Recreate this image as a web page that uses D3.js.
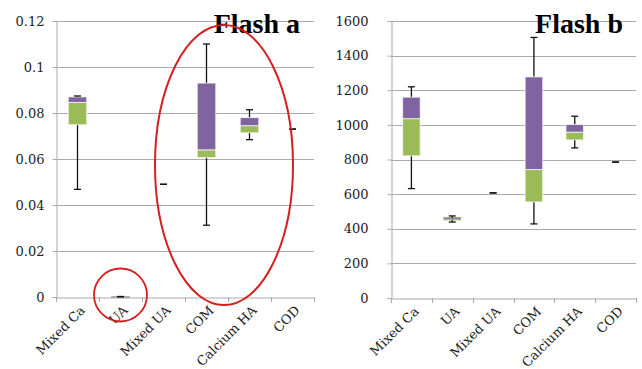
<!DOCTYPE html>
<html>
<head>
<meta charset="utf-8">
<script src="https://cdn.jsdelivr.net/npm/d3@7/dist/d3.min.js"></script>
<style>
  body { margin: 0; background: #fff; }
  svg { display: block; }
</style>
</head>
<body>
<div id="chart"></div>
<script>
(function () {
  'use strict';

  var categories = ['Mixed Ca', 'UA', 'Mixed UA', 'COM', 'Calcium HA', 'COD'];

  // Flash a
  var aMin = [0.0468, 0.0001, 0.049, 0.0312, 0.0684, 0.073];
  var aQ1 = [0.0749, 0.00012, 0.049, 0.0606, 0.0714, 0.073];
  var aMed = [0.0846, 0.00016, 0.049, 0.064, 0.0745, 0.073];
  var aQ3 = [0.087, 0.0002, 0.049, 0.093, 0.078, 0.073];
  var aMax = [0.0874, 0.00022, 0.049, 0.110, 0.0814, 0.073];
  var aTicks = [0, 0.02, 0.04, 0.06, 0.08, 0.1, 0.12];

  // Flash b
  var bMin = [632, 439, 607, 428, 867, 785];
  var bQ1 = [821, 449, 607, 555, 913, 785];
  var bMed = [1036, 458, 607, 742, 958, 785];
  var bQ3 = [1160, 466, 607, 1277, 1002, 785];
  var bMax = [1220, 474, 607, 1505, 1050, 785];
  var bTicks = [0, 200, 400, 600, 800, 1000, 1200, 1400, 1600];

  var W = 642, H = 369;
  var svg = d3.select('#chart').append('svg').attr('width', W).attr('height', H);

  var purple = '#8064A2', green = '#9BBB59', grid = '#ABABAB';

  function boxChart(opt) {
    var x = d3.scaleBand().domain(categories).range([opt.x0, opt.x1]);
    var y = d3.scaleLinear().domain([0, opt.top]).range([opt.y0, opt.y1]);
    var g = svg.append('g');

    // gridlines
    g.append('g').selectAll('line').data(opt.ticks.slice(1)).join('line')
      .attr('x1', opt.x0).attr('x2', opt.x1)
      .attr('y1', function (d) { return Math.round(y(d)) + 0.5; })
      .attr('y2', function (d) { return Math.round(y(d)) + 0.5; })
      .attr('stroke', grid).attr('stroke-width', 1);

    // y axis
    var yAxis = g.append('g').attr('transform', 'translate(' + (opt.x0 + 0.5) + ',0)')
      .call(d3.axisLeft(y).tickValues(opt.ticks).tickSize(4).tickPadding(opt.pad).tickFormat(opt.fmt));
    yAxis.select('.domain').attr('stroke', grid);
    yAxis.selectAll('.tick line').attr('stroke', grid);
    yAxis.selectAll('text').attr('fill', '#222').style('font-family', '"DejaVu Serif", serif').style('font-size', '13px');

    // x axis
    var xAxis = g.append('g').attr('transform', 'translate(0,' + (Math.round(opt.y0) + 0.5) + ')')
      .call(d3.axisBottom(x).tickSize(0).tickFormat(''));
    xAxis.select('.domain').attr('stroke', grid);
    var bounds = categories.map(function (c) { return x(c); }).concat([opt.x1]);
    g.append('g').selectAll('line').data(bounds).join('line')
      .attr('x1', function (d) { return Math.round(d) + 0.5; })
      .attr('x2', function (d) { return Math.round(d) + 0.5; })
      .attr('y1', opt.y0).attr('y2', opt.y0 + 5)
      .attr('stroke', grid);

    // category labels
    g.append('g').selectAll('text').data(categories).join('text')
      .attr('transform', function (d) {
        return 'translate(' + (x(d) + x.bandwidth() / 2 + 5) + ',' + (opt.y0 + 11) + ') rotate(-45)';
      })
      .attr('text-anchor', 'end')
      .attr('dy', '0.35em')
      .attr('fill', '#222')
      .style('font-family', '"DejaVu Serif", serif')
      .style('font-size', '13px')
      .text(function (d) { return d; });

    var bw = x.bandwidth() * 0.43;
    var cx = function (i) { return x(categories[i]) + x.bandwidth() / 2; };
    var idx = d3.range(categories.length);

    // whisker stems
    g.append('g').attr('stroke', '#111').attr('stroke-width', 1.3)
      .selectAll('line').data(idx.filter(function (i) { return opt.max[i] > opt.min[i]; })).join('line')
      .attr('x1', cx).attr('x2', cx)
      .attr('y1', function (i) { return y(opt.min[i]); })
      .attr('y2', function (i) { return y(opt.max[i]); });

    // boxes: lower part green (q1..median), upper part purple (median..q3)
    var boxed = idx.filter(function (i) { return opt.q3[i] > opt.q1[i]; });
    var segs = [];
    boxed.forEach(function (i) {
      segs.push({ i: i, lo: opt.q1[i], hi: opt.med[i], fill: green });
      segs.push({ i: i, lo: opt.med[i], hi: opt.q3[i], fill: purple });
    });
    g.append('g').selectAll('rect').data(segs).join('rect')
      .attr('x', function (d) { return cx(d.i) - bw / 2; })
      .attr('width', bw)
      .attr('y', function (d) { return y(d.hi); })
      .attr('height', function (d) { return Math.max(0.8, y(d.lo) - y(d.hi)); })
      .attr('fill', function (d) { return d.fill; })
      .attr('stroke', '#ffffff')
      .attr('stroke-opacity', 0.7)
      .attr('stroke-width', function (d) { return y(d.lo) - y(d.hi) > 4 ? 1 : 0; });

    // whisker caps
    var caps = [];
    idx.forEach(function (i) { caps.push([i, opt.min[i]]); caps.push([i, opt.max[i]]); });
    g.append('g').attr('stroke', '#111').attr('stroke-width', 1.3)
      .selectAll('line').data(caps).join('line')
      .attr('x1', function (d) { return cx(d[0]) - 3.5; })
      .attr('x2', function (d) { return cx(d[0]) + 3.5; })
      .attr('y1', function (d) { return y(d[1]); })
      .attr('y2', function (d) { return y(d[1]); });

    // title
    g.append('text')
      .attr('x', opt.titleX).attr('y', 33)
      .attr('text-anchor', 'end')
      .style('font-family', '"Liberation Serif", serif')
      .style('font-weight', 'bold')
      .style('font-size', '28px')
      .attr('fill', '#000')
      .text(opt.title);

    return { x: x, y: y };
  }

  var a = boxChart({
    x0: 56, x1: 314, y0: 297, y1: 21, top: 0.12, ticks: aTicks,
    fmt: function (d) { return d === 0 ? '0' : String(+d.toFixed(2)); }, pad: 8,
    min: aMin, q1: aQ1, med: aMed, q3: aQ3, max: aMax,
    title: 'Flash a', titleX: 300
  });

  boxChart({
    x0: 391, x1: 636, y0: 298, y1: 21, top: 1600, ticks: bTicks,
    fmt: function (d) { return String(d); }, pad: 19,
    min: bMin, q1: bQ1, med: bMed, q3: bQ3, max: bMax,
    title: 'Flash b', titleX: 623
  });

  // red annotation marks on Flash a
  svg.append('ellipse')
    .attr('cx', a.x('COM') + a.x.bandwidth() - 4).attr('cy', 165)
    .attr('rx', 69).attr('ry', 140)
    .attr('fill', 'none').attr('stroke', '#D42020').attr('stroke-width', 2);
  svg.append('circle')
    .attr('cx', a.x('UA') + a.x.bandwidth() / 2).attr('cy', 295)
    .attr('r', 26.5)
    .attr('fill', 'none').attr('stroke', '#D42020').attr('stroke-width', 1.8);
})();
</script>
</body>
</html>
